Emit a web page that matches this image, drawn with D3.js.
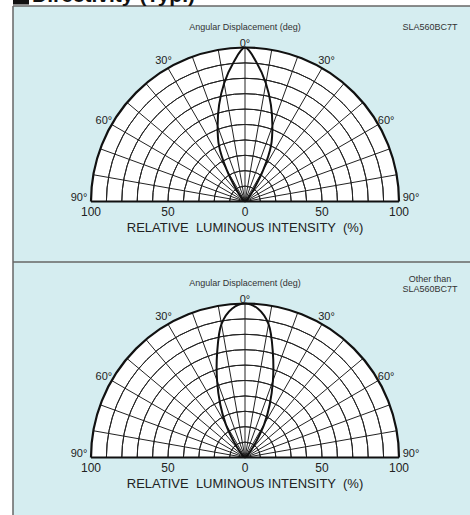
<!DOCTYPE html>
<html>
<head>
<meta charset="utf-8">
<script src="https://cdn.jsdelivr.net/npm/d3@7"></script>
<style>
  html, body { margin: 0; padding: 0; background: #fff; }
  svg { display: block; font-family: "Liberation Sans", Arial, sans-serif; }
</style>
</head>
<body>
<svg id="chart" width="470" height="515"></svg>
<script>
// angles (deg from axis) and relative intensity (%)
const angles = [0, 5, 10, 15, 20, 25, 30, 35, 40, 45, 50, 60, 70, 80, 90];
const intensitySLA = [100, 90, 78, 65, 52, 40, 24, 11, 5, 2.5, 1, 0.3, 0, 0, 0];
const intensityOther = [100, 97, 88, 70, 53, 38, 25, 13, 6, 3, 1.2, 0.3, 0, 0, 0];

const ringTicks = [10, 20, 30, 40, 50, 60, 70, 80, 90, 100];
const spokeAngles = [-90, -80, -70, -60, -50, -40, -30, -20, -10, 0, 10, 20, 30, 40, 50, 60, 70, 80, 90];
const angleLabels = [-90, -60, -30, 0, 30, 60, 90];
const xTicks = [-100, -50, 0, 50, 100];

const panels = [
  { top: 6, data: intensitySLA, note: ["SLA560BC7T"] },
  { top: 262, data: intensityOther, note: ["Other than", "SLA560BC7T"] }
];

const svg = d3.select("#chart");
const W = 470, H = 515;
const cx = 245, R = 154;

// panel background + frame
svg.append("rect").attr("x", 13).attr("y", 6).attr("width", W).attr("height", H)
  .attr("fill", "#d5edf0");
svg.append("line").attr("x1", 13).attr("x2", 13).attr("y1", 6).attr("y2", H)
  .attr("stroke", "#666").attr("stroke-width", 1.5);
[6, 262].forEach(y => {
  svg.append("line").attr("x1", 13).attr("x2", W).attr("y1", y).attr("y2", y)
    .attr("stroke", "#666").attr("stroke-width", 1.5);
});

// title, cut by the top edge
svg.append("rect").attr("x", 13).attr("y", -12).attr("width", 16).attr("height", 16.5).attr("fill", "#111");
svg.append("text").attr("x", 32).attr("y", 1.5)
  .attr("font-size", 21).attr("font-weight", "bold").attr("fill", "#111")
  .text("Directivity (Typ.)");

const r = d3.scaleLinear().domain([0, 100]).range([0, R]);
const a = d3.scaleLinear().domain([-90, 90]).range([-Math.PI / 2, Math.PI / 2]);
const x = d3.scaleLinear().domain([-100, 100]).range([cx - R, cx + R]);

panels.forEach(p => {
  const cy = p.top + 195.5;
  const g = svg.append("g").attr("transform", `translate(${cx},${cy})`);

  // white half disc
  g.append("path")
    .attr("d", d3.arc()({ innerRadius: 0, outerRadius: R, startAngle: -Math.PI / 2, endAngle: Math.PI / 2 }))
    .attr("fill", "#fff");

  // rings
  g.selectAll(".ring").data(ringTicks.slice(0, -1)).join("path")
    .attr("d", d => d3.arc()({ innerRadius: r(d), outerRadius: r(d), startAngle: -Math.PI / 2, endAngle: Math.PI / 2 }))
    .attr("fill", "none").attr("stroke", "#222").attr("stroke-width", 1);

  // spokes
  g.selectAll(".spoke").data(spokeAngles).join("line")
    .attr("x1", 0).attr("y1", 0)
    .attr("x2", d => r(100) * Math.sin(a(d)))
    .attr("y2", d => -r(100) * Math.cos(a(d)))
    .attr("stroke", "#222").attr("stroke-width", 1);

  // outer ring and base line
  g.append("path")
    .attr("d", d3.arc()({ innerRadius: R, outerRadius: R, startAngle: -Math.PI / 2, endAngle: Math.PI / 2 }))
    .attr("fill", "none").attr("stroke", "#111").attr("stroke-width", 2.2);
  g.append("line").attr("x1", -R).attr("x2", R).attr("y1", 0).attr("y2", 0)
    .attr("stroke", "#111").attr("stroke-width", 2.2);

  // directivity lobe, mirrored on both sides
  const pts = angles.map((d, i) => [-d, p.data[i]]).reverse()
    .concat(angles.slice(1).map((d, i) => [d, p.data[i + 1]]));
  const lobe = d3.lineRadial()
    .angle(d => a(d[0]))
    .radius(d => r(d[1]))
    .curve(d3.curveCatmullRom);
  g.append("path").attr("d", lobe(pts))
    .attr("fill", "none").attr("stroke", "#111").attr("stroke-width", 2);

  // angle labels
  g.selectAll(".alab").data(angleLabels).join("text")
    .attr("x", d => (d === 0 ? 0 : Math.abs(d) === 90 ? 166 : 163) * Math.sin(a(d)))
    .attr("y", d => d === 0 ? -158.5 : Math.abs(d) === 90 ? -4 : -163 * Math.cos(a(d)))
    .attr("dy", "0.35em")
    .attr("text-anchor", "middle")
    .attr("font-size", 11).attr("fill", "#222")
    .text(d => Math.abs(d) + "°");

  // intensity ticks
  g.selectAll(".xt").data(xTicks).join("text")
    .attr("x", d => x(d) - cx).attr("y", 10.5).attr("dy", "0.35em")
    .attr("text-anchor", "middle").attr("font-size", 12).attr("fill", "#222")
    .text(d => Math.abs(d));

  g.append("text").attr("x", 0).attr("y", 26).attr("dy", "0.35em")
    .attr("text-anchor", "middle").attr("font-size", 13).attr("fill", "#222")
    .attr("xml:space", "preserve")
    .text("RELATIVE  LUMINOUS INTENSITY  (%)");

  g.append("text").attr("x", 0).attr("y", -174.5).attr("dy", "0.35em")
    .attr("text-anchor", "middle").attr("font-size", 9).attr("fill", "#333")
    .text("Angular Displacement (deg)");

  const noteY = p.note.length === 1 ? -174.5 : -179;
  p.note.forEach((t, i) => {
    g.append("text").attr("x", 430 - cx).attr("y", noteY + i * 10).attr("dy", "0.35em")
      .attr("text-anchor", "middle").attr("font-size", 9).attr("fill", "#333")
      .text(t);
  });
});
</script>
</body>
</html>
